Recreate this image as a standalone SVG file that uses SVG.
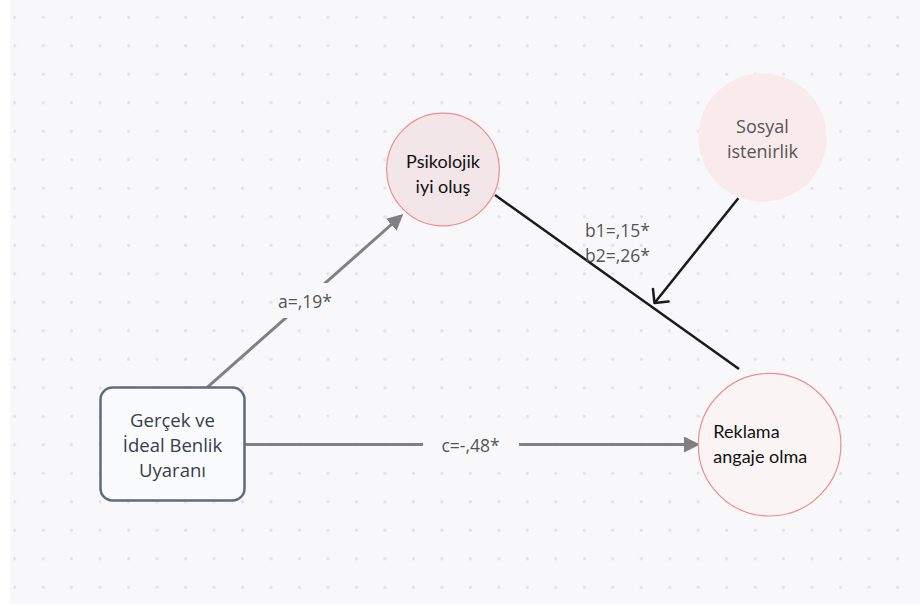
<svg xmlns="http://www.w3.org/2000/svg" width="920" height="606" viewBox="0 0 920 606">
<style>
.lbl{font-family:"Open Sans","Noto Sans",sans-serif;font-size:17.5px;fill:#555555}
.lato{font-family:Lato,"Open Sans",sans-serif;font-size:18px;fill:#111111}
.open{font-family:"Open Sans","Noto Sans",sans-serif;font-size:18px}
.gray{stroke:#808080;stroke-width:3;fill:none}
.blk{stroke:#1a1a1a;stroke-width:2.5;fill:none}
</style>
<defs>
<pattern id="dots" patternUnits="userSpaceOnUse" x="0.46" y="3.06" width="28.48" height="28.5">
<circle cx="14.24" cy="14.24" r="1.6" fill="#e1e1e6"/>
</pattern>
<marker id="tri" markerUnits="userSpaceOnUse" viewBox="0 0 16 16" refX="4" refY="8" markerWidth="16" markerHeight="16" orient="auto">
<path d="M0,0 L16,8 L0,16 z" fill="#808080"/>
</marker>
<marker id="vee" markerUnits="userSpaceOnUse" viewBox="0 0 20 24" refX="12" refY="12" markerWidth="20" markerHeight="24" orient="auto">
<path d="M2,2 L12,12 L2,22" fill="none" stroke="#1a1a1a" stroke-width="2.5" stroke-linecap="round" stroke-linejoin="round"/>
</marker>
</defs>
<rect x="0" y="0" width="920" height="606" fill="#ffffff"/>
<rect x="10" y="0" width="910" height="604" fill="#f8f8fb"/>
<rect x="10" y="0" width="910" height="604" fill="url(#dots)"/>

<g id="connectors">
<line class="gray" x1="207.3" y1="387.3" x2="394.3" y2="222" marker-end="url(#tri)"/>
<rect x="276" y="283" width="58" height="35" fill="#f8f8fb"/>
<text class="lbl" x="305" y="308" text-anchor="middle">a=,19*</text>
<line class="gray" x1="245" y1="444.5" x2="688" y2="444.5" marker-end="url(#tri)"/>
<rect x="423" y="430" width="96" height="30" fill="#f8f8fb"/>
<text class="lbl" x="470.5" y="451.5" text-anchor="middle">c=-,48*</text>
<line class="blk" x1="495" y1="195" x2="739" y2="369"/>
<line class="blk" x1="738.3" y1="198.3" x2="654.5" y2="303" marker-end="url(#vee)"/>
<text class="lbl" x="585" y="236.7">b1=,15*</text>
<text class="lbl" x="585" y="261.7">b2=,26*</text>
</g>

<g id="psikolojik">
<circle cx="443" cy="169.5" r="56.3" fill="#f2e6e8" stroke="#f08c8c" stroke-width="1.2"/>
<text class="lato" text-anchor="middle"><tspan x="443" y="168">Psikolojik</tspan><tspan x="443" y="193">iyi oluş</tspan></text>
</g>

<g id="sosyal">
<circle cx="762.5" cy="137.5" r="64.2" fill="#f9ebeb"/>
<text class="open" fill="#555555" text-anchor="middle"><tspan x="762.5" y="133.3">Sosyal</tspan><tspan x="762.5" y="158">istenirlik</tspan></text>
</g>

<g id="gercek">
<rect x="100.5" y="387.5" width="144" height="113" rx="12" fill="#fafbfc" stroke="#5f6b80" stroke-width="2.5"/>
<text class="open" fill="#333d4d" text-anchor="middle" style="font-size:18.5px"><tspan x="172.5" y="426.7">Gerçek ve</tspan><tspan x="172.5" y="451.7">İdeal Benlik</tspan><tspan x="172.5" y="476.7">Uyaranı</tspan></text>
</g>

<g id="reklama">
<circle cx="769.6" cy="444.7" r="71.3" fill="#fbf4f5" stroke="#f08c8c" stroke-width="1.2"/>
<text class="lato"><tspan x="713.3" y="438.3">Reklama</tspan><tspan x="713.3" y="463.3">angaje olma</tspan></text>
</g>
</svg>
